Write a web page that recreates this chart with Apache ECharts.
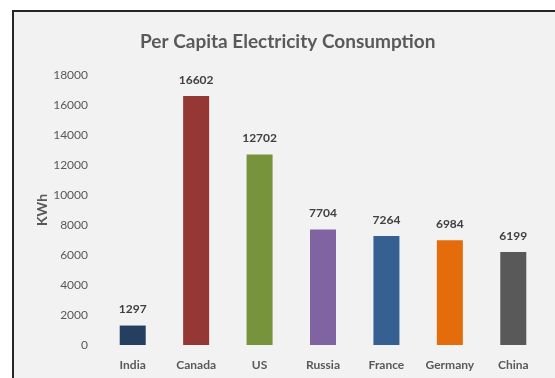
<!DOCTYPE html>
<html><head><meta charset="utf-8">
<script src="https://cdn.jsdelivr.net/npm/echarts@6/dist/echarts.min.js"></script>
<style>html,body{margin:0;padding:0;background:#fff}#c{width:555px;height:378px}</style>
</head><body><div id="c"></div>
<script>
const categories = ['India','Canada','US','Russia','France','Germany','China'];
const values = [1297,16602,12702,7704,7264,6984,6199];
const colors = ['#243f60','#953735','#77933c','#8064a2','#366092','#e46c0a','#595959'];
const yTicks = {min:0, max:18000, interval:2000};
const FONT = 'Lato, "Open Sans", sans-serif';
const chart = echarts.init(document.getElementById('c'));
chart.setOption({
  backgroundColor:'#ffffff',
  animation:false,
  graphic:[{type:'rect',z:-10,shape:{x:13,y:11,width:600,height:420},style:{fill:'#f2f2f2',stroke:'#262626',lineWidth:2}}],
  title:{text:'Per Capita Electricity Consumption',left:135,top:27,
    textStyle:{fontFamily:FONT,fontSize:19,fontWeight:'bold',color:'#595959'}},
  grid:{left:101,right:10,top:75,bottom:33},
  xAxis:{type:'category',data:categories,axisLine:{show:false},axisTick:{show:false},
    axisLabel:{fontFamily:FONT,fontSize:12,fontWeight:'bold',color:'#595959',margin:14}},
  yAxis:{type:'value',min:yTicks.min,max:yTicks.max,interval:yTicks.interval,
    name:'KWh',nameLocation:'middle',nameGap:52,nameRotate:90,nameMoveOverlap:false,
    nameTextStyle:{fontFamily:FONT,fontSize:14,fontWeight:'bold',color:'#595959'},
    splitLine:{show:false},axisLine:{show:false},axisTick:{show:false},
    axisLabel:{fontFamily:FONT,fontSize:12,color:'#595959',margin:13,formatter:v=>String(v)}},
  series:[{type:'bar',barWidth:26,
    data:values.map((v,i)=>({value:v,itemStyle:{color:colors[i]}})),
    label:{show:true,position:'top',distance:10,fontFamily:FONT,fontSize:12,fontWeight:'bold',color:'#404040'}}]
});
</script></body></html>
